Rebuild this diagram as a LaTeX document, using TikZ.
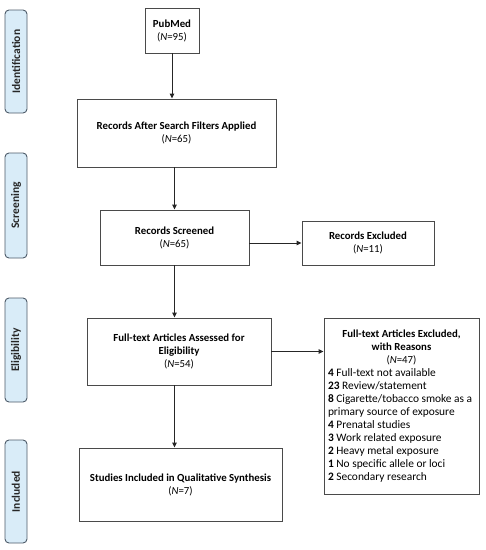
\documentclass[tikz,border=0pt]{standalone}
\usepackage{fontspec}
\setmainfont{Carlito}
\usetikzlibrary{arrows.meta,calc}
\definecolor{sidefill}{HTML}{D9ECF8}
\definecolor{sideline}{HTML}{4D5B69}
\definecolor{boxline}{HTML}{4A4A4A}
\tikzset{
  box/.style={draw=boxline, line width=0.9pt, fill=white, align=center, inner sep=0pt,
    font=\fontsize{10.8}{13}\selectfont},
  side/.style={draw=sideline, line width=0.9pt, fill=sidefill, rounded corners=4pt,
    minimum width=22pt, inner sep=0pt},
  sidetext/.style={rotate=90, font=\fontsize{11.5}{13}\selectfont\bfseries, text=black!85},
  arr/.style={draw=black!85, line width=0.9pt, -{Triangle[length=5pt,width=4.5pt]}}
}
\begin{document}
\begin{tikzpicture}[x=1pt,y=-1pt]
\useasboundingbox (0,0) rectangle (486,550);
% side labels
\node[side, minimum height=103pt] (sid) at (16,61.5) {};
\node[sidetext] (tid) at (sid.center) {Identification};
\node[side, minimum height=105pt] (sscr) at (16,205.5) {};
\node[sidetext] (tscr) at (sscr.center) {Screening};
\node[side, minimum height=104pt] (selg) at (16,350) {};
\node[sidetext] (telg) at (selg.center) {Eligibility};
\node[side, minimum height=103pt] (sinc) at (16,491.5) {};
\node[sidetext] (tinc) at (sinc.center) {Included};
% boxes
\node[box, minimum width=54pt, minimum height=45pt] (pubmed) at (172,30.5)
  {\textbf{PubMed}\\(\textit{N}=95)};
\node[box, minimum width=199pt, minimum height=68pt] (after) at (176.5,133)
  {\textbf{Records After Search Filters Applied}\\(\textit{N}=65)};
\node[box, minimum width=149pt, minimum height=55pt] (screened) at (174.5,237.5)
  {\textbf{Records Screened}\\(\textit{N}=65)};
\node[box, minimum width=132pt, minimum height=44pt] (excluded) at (368,243)
  {\textbf{Records Excluded}\\(\textit{N}=11)};
\node[box, minimum width=184pt, minimum height=67pt] (fulltext) at (179,351.5)
  {\textbf{Full-text Articles Assessed for}\\\textbf{Eligibility}\\(\textit{N}=54)};
\node[box, minimum width=155pt, minimum height=176pt] (reasons) at (401.5,406)
  {\begin{minipage}{147pt}\fontsize{10.8}{13}\selectfont
   \centering\textbf{Full-text Articles Excluded,}\\\textbf{with Reasons}\\(\textit{N}=47)\par
   \raggedright\fontsize{11.4}{13}\selectfont
   \textbf{4} Full-text not available\\
   \textbf{23} Review/statement\\
   \textbf{8} Cigarette/tobacco smoke as a\\primary source of exposure\\
   \textbf{4} Prenatal studies\\
   \textbf{3} Work related exposure\\
   \textbf{2} Heavy metal exposure\\
   \textbf{1} No specific allele or loci\\
   \textbf{2} Secondary research\par
   \end{minipage}};
\node[box, minimum width=203pt, minimum height=73pt] (studies) at (180.5,484.5)
  {\textbf{Studies Included in Qualitative Synthesis}\\(\textit{N}=7)};
% arrows
\draw[arr] (pubmed.south) -- (pubmed.south |- after.north);
\draw[arr] (screened.north |- after.south) -- (screened.north);
\draw[arr] (screened.south) -- (screened.south |- fulltext.north);
\draw[arr] (screened.south |- fulltext.south) -- (screened.south |- studies.north);
\draw[arr] (screened.east |- excluded.west) -- (excluded.west);
\draw[arr] (fulltext.east) -- (fulltext.east -| reasons.west);
\end{tikzpicture}
\end{document}
